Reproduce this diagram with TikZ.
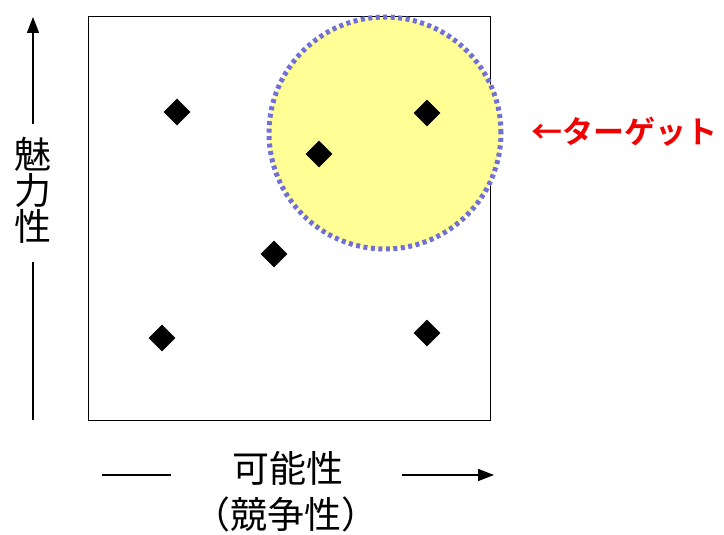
\documentclass[tikz,border=0pt]{standalone}
\usepackage{fontspec}
\newfontfamily\jp{Noto Sans CJK JP}
\newfontfamily\jpb{Noto Sans CJK JP Bold}
\usetikzlibrary{arrows.meta,shapes.geometric}
\definecolor{circfill}{RGB}{255,255,150}
\definecolor{circline}{RGB}{112,112,214}
\definecolor{tred}{RGB}{240,0,0}
\tikzset{
  pt/.style={fill=black,draw=none,shape=diamond,minimum width=27pt,minimum height=27pt,inner sep=0pt},
  axis/.style={line width=1.4pt,-{Triangle[length=16pt,width=12pt]}},
  lbl/.style={font=\jp\fontsize{37}{40}\selectfont,inner sep=0pt,text=black},
}
\begin{document}
\begin{tikzpicture}[x=1pt,y=-1pt]
\useasboundingbox (0,0) rectangle (724,535);
\node[draw=black,line width=1.3pt,minimum width=402pt,minimum height=404pt,inner sep=0pt,anchor=north west] (box) at (88,16) {};
\node[circle,fill=circfill,draw=circline,line width=5pt,dash pattern=on 4pt off 3.5pt,minimum size=232pt,inner sep=0pt] (target) at (385,133) {};
\node[pt] (p1) at (177,112) {};
\node[pt] (p2) at (319,154) {};
\node[pt] (p3) at (427,113) {};
\node[pt] (p4) at (274,254) {};
\node[pt] (p5) at (162,338) {};
\node[pt] (p6) at (427,333) {};
% vertical axis
\node[lbl,align=center] (ylab) at (33,190) {魅\\[-4pt]力\\[-4pt]性};
\coordinate (ybot) at (33,420);
\coordinate (ytop) at (33,17);
\draw[line width=1.4pt] (ybot) -- (33,262);
\draw[axis] (33,124) -- (ytop);
% horizontal axis
\node[lbl] (xlab1) at (288,468) {可能性};
\node[lbl] (xlab2) at (286,514) {（競争性）};
\coordinate (xl) at (102,475);
\coordinate (xr) at (494,475);
\draw[line width=1.4pt] (xl) -- (171,475);
\draw[axis] (402,475) -- (xr);
% target label
\node[font=\jpb\fontsize{31}{33}\selectfont,text=tred,inner sep=0pt,anchor=west] (tlab) at (531,132) {←ターゲット};
\end{tikzpicture}
\end{document}
